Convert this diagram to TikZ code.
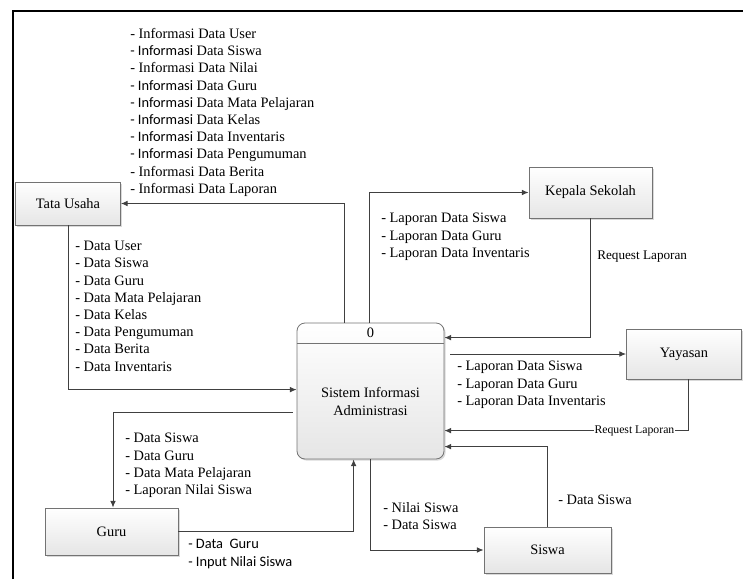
\documentclass[tikz,border=0pt]{standalone}
\usepackage{fontspec}
\setmainfont{Liberation Serif}
\newfontfamily\calibri{Carlito}
\usetikzlibrary{arrows.meta,positioning,calc,shadows}

% word set in Carlito inside the serif lists
\newcommand{\sinf}{{\calibri - Informasi}}

\begin{document}
\begin{tikzpicture}[x=0.75pt,y=-0.75pt,
    font=\rmfamily\fontsize{10.8}{12.9}\selectfont,
    entity/.style={draw=black!55, line width=0.6pt, top color=white, bottom color=black!10,
      drop shadow={shadow xshift=1.2pt, shadow yshift=-1.2pt, opacity=0.3},
      inner sep=0pt, align=center},
    flow/.style={draw=black!75, line width=0.7pt, -{Latex[length=5pt,width=4.2pt]}},
    lbl/.style={anchor=north west, inner sep=0pt, align=left}]
  \useasboundingbox (0,0) rectangle (743,579);

  % Frame
  \draw[line width=1.6pt] (13,579) -- (13,11) -- (743,11);

  % Entities
  \node[entity, minimum width=78.75pt, minimum height=32.25pt] (tu) at (68,203.5) {Tata Usaha};
  \node[entity, minimum width=92.25pt, minimum height=38.25pt] (ks) at (590.5,192.5) {Kepala Sekolah};
  \node[entity, minimum width=86.25pt, minimum height=37.5pt] (yy) at (684,354) {Yayasan};
  \node[entity, minimum width=99.75pt, minimum height=35.25pt] (guru) at (111.5,531.5) {Guru};
  \node[entity, minimum width=95.25pt, minimum height=34.5pt] (sw) at (547.5,550) {Siswa};

  % Process
  \node[entity, rounded corners=6pt, minimum width=110.25pt, minimum height=102pt] (proc) at (370.5,391) {};
  \draw[draw=black!55, line width=0.6pt] ($(proc.north west)+(0,21)$) -- ($(proc.north east)+(0,21)$);
  \node (pnum) at ($(proc.north)+(0,10.5)$) {0};
  \node[align=center] (pname) at ($(proc.center)+(0,10.5)$) {Sistem Informasi\\Administrasi};

  % Flows
  \draw[flow] ($(proc.north west)+(48,0)$) |- (tu.east);
  \draw[flow] (tu.south) |- ($(proc.north west)+(0,67)$);
  \draw[flow] ($(proc.north west)+(73,0)$) |- (ks.west);
  \draw[flow] (ks.south) |- ($(proc.north east)+(0,15)$);
  \draw[flow] (yy.west -| proc.east) ++(6,0) -- (yy.west);
  \draw[flow] ($(yy.south)+(4,0)$) |- ($(proc.north east)+(0,108)$)
    node[pos=0.61, fill=white, inner sep=0.6pt, font=\rmfamily\fontsize{8.8}{10}\selectfont] (reqyy) {Request Laporan};
  \draw[flow] (sw.north) |- ($(proc.north east)+(0,124)$);
  \draw[flow] ($(proc.south west)+(74,0)$) |- (sw.west);
  \draw[flow] ($(proc.north west)+(-4,90)$) -| ($(guru.north)+(1.5,0)$);
  \draw[flow] (guru.east) -| ($(proc.south west)+(57,0)$);

  % Labels
  \node[lbl] (infotu) at (130,28) {- Informasi Data User\\\sinf{} Data Siswa\\- Informasi Data Nilai\\\sinf{} Data Guru\\
    \sinf{} Data Mata Pelajaran\\\sinf{} Data Kelas\\\sinf{} Data Inventaris\\\sinf{} Data Pengumuman\\
    - Informasi Data Berita\\- Informasi Data Laporan};
  \node[lbl] (datatu) at (75,241) {- Data User\\- Data Siswa\\- Data Guru\\- Data Mata Pelajaran\\- Data Kelas\\
    - Data Pengumuman\\- Data Berita\\- Data Inventaris};
  \node[lbl] (lapks) at (381,213) {- Laporan Data Siswa\\- Laporan Data Guru\\- Laporan Data Inventaris};
  \node[anchor=west, inner sep=0pt, font=\rmfamily\fontsize{9.9}{11}\selectfont] (reqks) at (597,257) {Request Laporan};
  \node[lbl] (lapyy) at (457,361) {- Laporan Data Siswa\\- Laporan Data Guru\\- Laporan Data Inventaris};
  \node[lbl] (dataguru) at (125,433) {- Data Siswa\\- Data Guru\\- Data Mata Pelajaran\\- Laporan Nilai Siswa};
  \node[lbl, font=\calibri\fontsize{10.8}{13.5}\selectfont] (inguru) at (188,539) {- Data\ \ Guru\\- Input Nilai Siswa};
  \node[lbl] (datasw) at (383,502) {- Nilai Siswa\\- Data Siswa};
  \node[lbl] (insw) at (558,495) {- Data Siswa};
\end{tikzpicture}
\end{document}
